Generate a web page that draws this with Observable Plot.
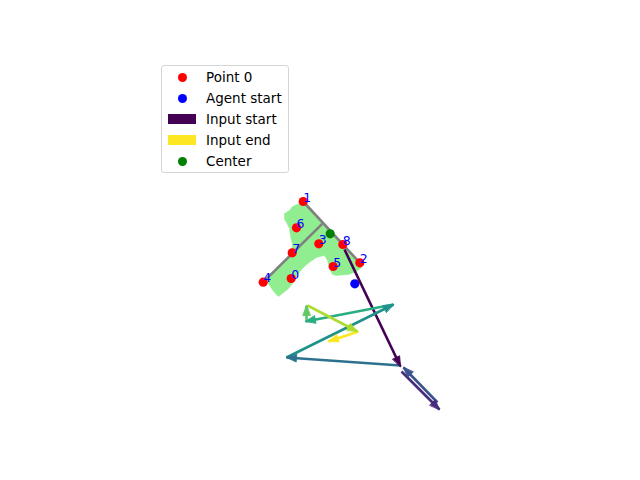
<!DOCTYPE html>
<html>
<head>
<meta charset="utf-8">
<script src="https://cdn.jsdelivr.net/npm/d3@7"></script>
<script src="https://cdn.jsdelivr.net/npm/@observablehq/plot@0.6"></script>
<style>
  body { margin: 0; background: #fff; }
  #wrap { position: relative; width: 640px; height: 480px; font-family: "DejaVu Sans", sans-serif; }
  #legend { position: absolute; left: 161px; top: 65px; width: 126px; height: 106px; border: 1px solid #d5d5d5; border-radius: 3px; background: rgba(255,255,255,0.8); font-size: 13.5px; }
  .row { position: absolute; left: 0; height: 20px; display: flex; align-items: center; }
  .mk { width: 40px; display: flex; justify-content: center; align-items: center; }
  .dot { width: 9px; height: 9px; border-radius: 50%; }
  .patch { width: 28px; height: 10px; }
  .lbl { margin-left: 4px; color: #000; }
</style>
</head>
<body>
<div id="wrap"></div>
<script>
// ---- data (image-plane world coordinates) ----
const pointIds = [0, 1, 2, 3, 4, 5, 6, 7, 8];
const pointX = [290.7, 302.7, 359.3, 318.3, 262.7, 332.7, 296.0, 291.7, 342.3];
const pointY = [278.0, 201.0, 262.3, 243.3, 281.7, 266.0, 227.3, 252.3, 244.0];

const agentStart = {x: 354.3, y: 283.3};
const center = {x: 329.7, y: 233.3};

// skeleton segments (gray)
const skelX1 = [302.7, 262.7];
const skelY1 = [201.0, 281.7];
const skelX2 = [359.3, 321.7];
const skelY2 = [262.3, 223.3];

// occupied region outline
const regionX = [299, 305, 310, 320, 330, 340, 350, 358, 361, 356, 348, 336, 332, 329, 327, 324,
                 316, 310, 305, 301, 297, 292, 288, 282, 278, 274, 269, 266, 276, 286, 291, 292, 290, 289, 286, 284, 284, 289, 292];
const regionY = [203, 204, 210, 221, 232, 243, 254, 262, 267, 271, 274, 275, 274, 268, 260, 255,
                 257, 261, 265, 269, 274, 283, 288, 293, 296, 292, 285, 280, 269, 259, 251, 244, 236, 228, 222, 219, 213, 210, 206];

// input arrows (start -> end), in order
const inX1 = [344, 401, 437, 400, 286, 393, 306, 307, 358];
const inY1 = [249, 371, 402, 365, 357, 304, 320, 305, 331];
const inX2 = [400, 439, 403, 286, 393, 305, 306, 357, 328];
const inY2 = [366, 409, 367, 357, 304, 321, 305, 331, 341];

// ---- derived tables ----
const points = pointIds.map((id, i) => ({id, x: pointX[i], y: pointY[i]}));
const skel = skelX1.map((d, i) => ({x1: d, y1: skelY1[i], x2: skelX2[i], y2: skelY2[i]}));
const region = regionX.map((d, i) => ({x: d, y: regionY[i]}));
const nSeg = inX1.length;
const segs = d3.range(nSeg).map(i => ({
  x1: inX1[i], y1: inY1[i], x2: inX2[i], y2: inY2[i],
  color: d3.interpolateViridis(i / (nSeg - 1)),
  angle: Math.atan2(inX2[i] - inX1[i], -(inY2[i] - inY1[i])) * 180 / Math.PI
}));

const triHead = {
  draw(ctx, l, r) {
    ctx.moveTo(0, -l);
    ctx.lineTo(-r, 0);
    ctx.lineTo(r, 0);
    ctx.closePath();
  }
};

const chart = Plot.plot({
  width: 640,
  height: 480,
  margin: 0,
  x: {domain: [0, 640], range: [0, 640], axis: null},
  y: {domain: [0, 480], range: [0, 480], axis: null},
  marks: [
    Plot.line(region, {x: "x", y: "y", fill: "#90ee90", stroke: "#90ee90", strokeWidth: 0.5, curve: "linear-closed"}),
    Plot.link(skel, {x1: "x1", y1: "y1", x2: "x2", y2: "y2", stroke: "#808080", strokeWidth: 2.6}),
    Plot.dot(points, {x: "x", y: "y", r: 4.6, fill: "red", stroke: "none"}),
    Plot.text(points, {x: "x", y: "y", text: d => String(d.id), fill: "blue", fontSize: 12.5,
      fontFamily: "DejaVu Sans", textAnchor: "start", lineAnchor: "bottom"}),
    Plot.dot([agentStart], {x: "x", y: "y", r: 4.6, fill: "blue", stroke: "none"}),
    Plot.dot([center], {x: "x", y: "y", r: 4.6, fill: "green", stroke: "none"}),
    Plot.link(segs, {x1: "x1", y1: "y1", x2: "x2", y2: "y2", stroke: "color", strokeWidth: 2.6}),
    Plot.vector(segs, {x: "x2", y: "y2", rotate: "angle", length: 10, r: 3.8, anchor: "end",
      shape: triHead, fill: "color", stroke: "color", strokeWidth: 0.8})
  ]
});

const wrap = document.getElementById("wrap");
wrap.appendChild(chart);

const legendItems = [
  {label: "Point 0", kind: "dot", color: "red"},
  {label: "Agent start", kind: "dot", color: "blue"},
  {label: "Input start", kind: "patch", color: d3.interpolateViridis(0)},
  {label: "Input end", kind: "patch", color: d3.interpolateViridis(1)},
  {label: "Center", kind: "dot", color: "green"}
];
const lg = document.createElement("div");
lg.id = "legend";
legendItems.forEach((it, i) => {
  const row = document.createElement("div");
  row.className = "row";
  row.style.top = (1 + i * 21) + "px";
  const mk = document.createElement("div");
  mk.className = "mk";
  const sw = document.createElement("div");
  sw.className = it.kind;
  sw.style.background = it.color;
  mk.appendChild(sw);
  const lb = document.createElement("span");
  lb.className = "lbl";
  lb.textContent = it.label;
  row.appendChild(mk);
  row.appendChild(lb);
  lg.appendChild(row);
});
wrap.appendChild(lg);
</script>
</body>
</html>
